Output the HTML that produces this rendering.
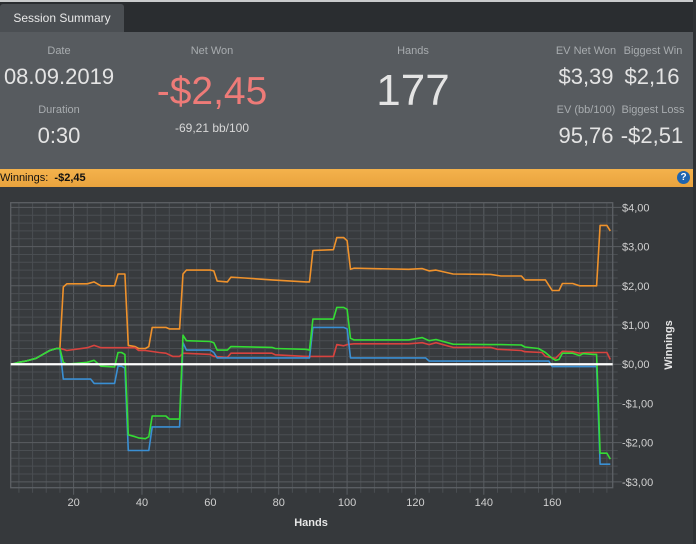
<!DOCTYPE html>
<html><head><meta charset="utf-8">
<style>
body{margin:0;width:696px;height:544px;background:#36393c;font-family:"Liberation Sans",sans-serif;overflow:hidden;position:relative}
.abs{position:absolute}
.lbl{position:absolute;color:#a8acaf;font-size:11px;text-align:center;transform:translateX(-50%);white-space:nowrap}
.val{position:absolute;color:#e4e4e4;text-align:center;transform:translateX(-50%);white-space:nowrap}
</style></head><body>
<div class="abs" style="left:0;top:0;width:696px;height:2px;background:#c9cbcc"></div>
<div class="abs" style="left:0;top:2px;width:696px;height:30px;background:#2a2d30"></div>
<div class="abs" style="left:0;top:4px;width:124px;height:28px;background:#4b4f53;border-radius:3px 3px 0 0;color:#e8e8e8;font-size:12px;line-height:28px;text-align:center">Session Summary</div>
<div class="abs" style="left:0;top:32px;width:693px;height:137px;background:#575b5f"></div>
<div class="abs" style="left:693px;top:0;width:3px;height:544px;background:#2e3134"></div>

<div class="lbl" style="left:59px;top:45px">Date</div>
<div class="val" style="left:59px;top:64px;font-size:22px">08.09.2019</div>
<div class="lbl" style="left:59px;top:104px">Duration</div>
<div class="val" style="left:59px;top:123px;font-size:22px">0:30</div>
<div class="lbl" style="left:212px;top:45px">Net Won</div>
<div class="val" style="left:212px;top:70px;font-size:39px;color:#ee7b78">-$2,45</div>
<div class="val" style="left:212px;top:121px;font-size:12px;color:#d8d8d8">-69,21 bb/100</div>
<div class="lbl" style="left:413px;top:45px">Hands</div>
<div class="val" style="left:413px;top:66px;font-size:44px">177</div>
<div class="lbl" style="left:586px;top:45px">EV Net Won</div>
<div class="val" style="left:586px;top:64px;font-size:22px">$3,39</div>
<div class="lbl" style="left:653px;top:45px">Biggest Win</div>
<div class="val" style="left:652px;top:64px;font-size:22px">$2,16</div>
<div class="lbl" style="left:586px;top:104px">EV (bb/100)</div>
<div class="val" style="left:586px;top:123px;font-size:22px">95,76</div>
<div class="lbl" style="left:653px;top:104px">Biggest Loss</div>
<div class="val" style="left:652px;top:123px;font-size:22px">-$2,51</div>

<div class="abs" style="left:0;top:169px;width:693px;height:18px;background:linear-gradient(#f4b24c,#e9a33e);font-size:11px;line-height:18px;color:#111">Winnings:&nbsp; <b>-$2,45</b></div>
<div class="abs" style="left:677px;top:171px;width:13px;height:13px;border-radius:50%;background:#1d64b0;color:#fff;font-size:10px;font-weight:bold;line-height:13px;text-align:center">?</div>

<svg class="abs" style="left:0;top:0" width="696" height="544" id="chart"></svg>
<script>
const xTicks=[20,40,60,80,100,120,140,160];
const yTicks=[4,3,2,1,0,-1,-2,-3];
const yTickLabels=["$4,00","$3,00","$2,00","$1,00","$0,00","-$1,00","-$2,00","-$3,00"];
const orangeHands=[2,4,6,9,11,13,15,16,17,18,24,26,28,32,33,34,35,36,38,39,41,42,43,47,48,51,52,53,60,61,62,65,66,70,78,88,89,90,96,97,99,100,101,102,118,122,124,126,131,142,145,151,152,158,160,162,163,166,168,173,174,176,177];
const orangeVals=[0,0.05,0.08,0.15,0.25,0.35,0.4,0.4,1.97,2.05,2.05,2.1,2.0,2.0,2.3,2.3,2.3,0.48,0.45,0.4,0.4,0.45,0.94,0.94,0.9,0.9,2.3,2.4,2.4,2.38,2.12,2.1,2.22,2.2,2.15,2.1,2.1,2.9,2.92,3.23,3.23,3.15,2.42,2.45,2.42,2.44,2.38,2.4,2.3,2.29,2.25,2.25,2.15,2.15,1.88,1.88,2.06,2.06,2.0,2.0,3.54,3.54,3.4];
const greenHands=[2,4,6,9,11,13,15,16,17,18,24,26,28,32,33,34,35,36,38,39,41,42,43,47,48,51,52,53,60,61,62,65,66,78,79,88,89,90,96,97,99,100,101,102,118,122,124,126,131,142,145,151,152,156,158,160,161,162,163,166,168,169,172,173,174,176,177];
const greenVals=[0,0.05,0.08,0.15,0.25,0.35,0.4,0.4,0.05,0.0,0.05,0.1,-0.05,-0.07,0.3,0.3,0.25,-1.8,-1.85,-1.88,-1.9,-1.85,-1.32,-1.32,-1.4,-1.4,0.74,0.6,0.58,0.55,0.36,0.36,0.45,0.43,0.4,0.38,0.36,1.15,1.15,1.45,1.45,1.4,0.66,0.62,0.62,0.68,0.6,0.63,0.51,0.5,0.5,0.49,0.44,0.4,0.3,0.15,0.1,0.12,0.28,0.28,0.22,0.27,0.25,0.25,-2.27,-2.27,-2.42];
const blueHands=[2,4,6,9,11,13,15,16,17,25,26,32,33,34,35,36,41,42,43,51,52,53,60,61,62,89,90,99,100,101,123,124,159,160,173,174,177];
const blueVals=[0,0.05,0.08,0.15,0.25,0.35,0.4,0.4,-0.38,-0.38,-0.49,-0.49,-0.05,-0.05,-0.1,-2.2,-2.2,-2.2,-1.6,-1.6,0.55,0.36,0.36,0.3,0.16,0.16,0.94,0.94,0.9,0.16,0.16,0.08,0.08,-0.06,-0.06,-2.55,-2.55];
const redHands=[2,4,6,9,11,13,15,16,17,18,24,26,28,38,39,41,45,47,49,51,52,60,61,65,66,78,79,88,96,97,99,100,102,118,122,124,126,131,142,144,151,152,157,158,161,163,166,168,170,176,177];
const redVals=[0,0.05,0.08,0.15,0.25,0.35,0.4,0.4,0.38,0.35,0.42,0.48,0.42,0.42,0.35,0.35,0.3,0.28,0.2,0.2,0.28,0.25,0.2,0.17,0.28,0.28,0.24,0.2,0.2,0.5,0.47,0.5,0.52,0.52,0.55,0.5,0.55,0.43,0.43,0.38,0.35,0.32,0.3,0.2,0.15,0.33,0.32,0.28,0.3,0.3,0.12];

const L=10.7,R=612.7,T=202.7,B=487.7;
const X0=1.6,X1=177.7,Y0=-3.15,Y1=4.12;
const sx=h=>L+(h-X0)/(X1-X0)*(R-L);
const sy=v=>B-(v-Y0)/(Y1-Y0)*(B-T);
const svg=document.getElementById('chart');
const NS='http://www.w3.org/2000/svg';
function mk(tag,attrs){const e=document.createElementNS(NS,tag);for(const k in attrs)e.setAttribute(k,attrs[k]);svg.appendChild(e);return e;}
const bg=mk('rect',{x:L,y:T,width:R-L,height:B-T,fill:'#383b3e'});


for(let h=4;h<X1;h+=4){const x=sx(h);const major=h%20===0;
 const g=mk('line',{x1:x,x2:x,y1:T,y2:B+(major?7:5),stroke:major?'#5a5e62':'#4a4e52','stroke-width':1});
 
 }
for(let i=-15;i<=20;i++){const v=i*0.2;if(v<Y0||v>Y1)continue;const y=sy(v);const major=i%5===0;
 const g=mk('line',{x1:L,x2:R+(major?9:5),y1:y,y2:y,stroke:major?'#5a5e62':'#4a4e52','stroke-width':1});
 
 }
const bd=mk('rect',{x:L,y:T,width:R-L,height:B-T,fill:'none',stroke:'#5d6165','stroke-width':1.3});


xTicks.forEach(h=>{const t=mk('text',{x:sx(h),y:506,fill:'#d0d0d0','font-size':11,'text-anchor':'middle','font-family':'Liberation Sans, sans-serif'});t.textContent=h;
 
 });
yTicks.forEach((v,i)=>{const t=mk('text',{x:622,y:sy(v)+4,fill:'#d0d0d0','font-size':11,'font-family':'Liberation Sans, sans-serif'});t.textContent=yTickLabels[i];
 
 });
const xt=mk('text',{x:311,y:526,fill:'#e6e6e6','font-size':11,'font-weight':'bold','text-anchor':'middle','font-family':'Liberation Sans, sans-serif'});xt.textContent='Hands';


const yt=mk('text',{x:672,y:345,fill:'#e6e6e6','font-size':11,'font-weight':'bold','text-anchor':'middle',transform:'rotate(-90 672 345)','font-family':'Liberation Sans, sans-serif'});yt.textContent='Winnings';


function series(hs,vs,color,name){
 const pts=hs.map((h,i)=>sx(h).toFixed(1)+','+sy(vs[i]).toFixed(1)).join(' ');
 const p=mk('polyline',{points:pts,fill:'none',stroke:color,'stroke-width':1.6,'stroke-linejoin':'round'});
 
 
}
series(orangeHands,orangeVals,'#ef922c','ev-winnings-line');
series(redHands,redVals,'#d8433f','showdown-line');
series(blueHands,blueVals,'#3a8fd3','non-showdown-line');
series(greenHands,greenVals,'#34dc34','net-winnings-line');
const z=mk('line',{x1:L,x2:R,y1:sy(0),y2:sy(0),stroke:'#ffffff','stroke-width':2.2});


</script>
</body></html>
